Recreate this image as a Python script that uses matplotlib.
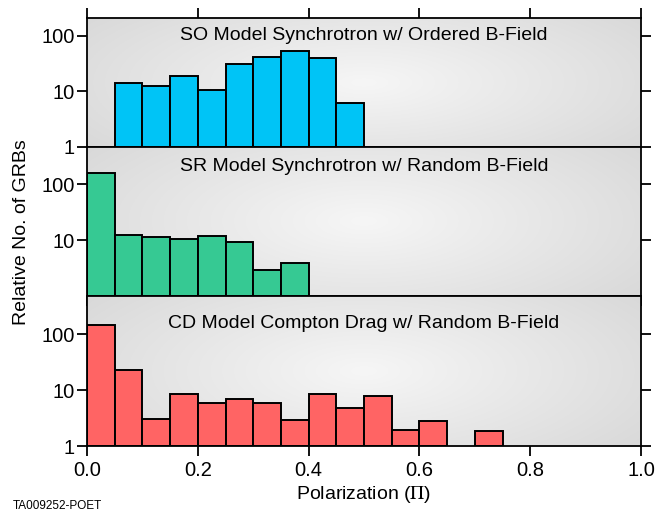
import matplotlib.pyplot as plt
import numpy as np

plt.rcParams['font.family'] = ['Liberation Sans', 'DejaVu Sans']
plt.rcParams['mathtext.fontset'] = 'stix'

# histogram data, bins of width 0.05 starting at 0.0 (0 = empty bin)
bin_width = 0.05
so_counts = [0, 14.4, 12.7, 19, 10.5, 31, 42, 54, 40.6, 6.3]
sr_counts = [161, 12.3, 11.4, 10.6, 11.7, 9.1, 2.9, 3.9]
cd_counts = [145, 23, 3.0, 8.6, 5.9, 6.9, 5.8, 2.9, 8.6, 4.8, 7.9, 1.9, 2.8, 0, 1.86]

titles = ["SO Model Synchrotron w/ Ordered B-Field",
          "SR Model Synchrotron w/ Random B-Field",
          "CD Model Compton Drag w/ Random B-Field"]
colors = ["#00c4f6", "#36c993", "#ff6464"]
x_ticks = [0.0, 0.2, 0.4, 0.6, 0.8, 1.0]
x_tick_labels = ["0.0", "0.2", "0.4", "0.6", "0.8", "1.0"]

W, H = 657, 513
fig = plt.figure(figsize=(W / 100, H / 100), dpi=100)


def rect(top_px, bottom_px):
    left, right = 87, 641
    return [left / W, 1 - bottom_px / H, (right - left) / W, (bottom_px - top_px) / H]


axes = [fig.add_axes(rect(18, 147)), fig.add_axes(rect(147, 296)), fig.add_axes(rect(296, 446))]
ymax = [211, 465, 488]
title_y = [100, 205, 160]
all_counts = [so_counts, sr_counts, cd_counts]

# gray radial background
gx, gy = np.meshgrid(np.linspace(0, 1, 300), np.linspace(0, 1, 150))
r = np.sqrt(((gx - 0.5) / 0.65) ** 2 + ((gy - 0.5) / 0.9) ** 2)
shade = np.clip(0.965 - 0.12 * r, 0.83, 0.97)
bg = np.dstack([shade, shade, shade])

for i, ax in enumerate(axes):
    counts = np.array(all_counts[i], dtype=float)
    lefts = np.arange(len(counts)) * bin_width
    keep = counts > 0
    ax.set_yscale('log')
    ax.set_xlim(0, 1)
    ax.set_ylim(1, ymax[i])
    ax.imshow(bg, extent=[0, 1, 0, 1], transform=ax.transAxes, aspect='auto', zorder=0)
    ax.bar(lefts[keep], counts[keep] - 1, bottom=1, width=bin_width, align='edge',
           color=colors[i], edgecolor='black', linewidth=1.4, zorder=2)
    ax.text(0.5, title_y[i], titles[i], transform=ax.get_yaxis_transform(),
            ha='center', va='center', fontsize=14, zorder=3)
    ax.minorticks_off()
    if i == 1:
        ax.set_yticks([10, 100])
        ax.set_yticklabels(["10", "100"])
    else:
        ax.set_yticks([1, 10, 100])
        ax.set_yticklabels(["1", "10", "100"])
    ax.tick_params(axis='y', which='major', direction='out', length=7, width=1.3,
                   left=True, right=True, labelsize=14.5, pad=2)
    ax.set_xticks(x_ticks)
    for s in ax.spines.values():
        s.set_linewidth(1.3)
    if i == 0:
        ax.tick_params(axis='x', direction='out', length=7, width=1.3,
                       top=True, bottom=False, labeltop=False, labelbottom=False)
    elif i == 1:
        ax.tick_params(axis='x', direction='out', length=7, width=1.3,
                       top=False, bottom=True, labelbottom=False)
    else:
        ax.tick_params(axis='x', direction='out', length=7, width=1.3,
                       top=False, bottom=True, labelsize=14.5, pad=4)
        ax.set_xticklabels(x_tick_labels)

axes[2].set_xlabel(r"Polarization ($\Pi$)", fontsize=14, labelpad=3)
fig.text(22 / W, 1 - 232 / H, "Relative No. of GRBs", rotation=90, ha='center', va='center', fontsize=14)
fig.text(13 / W, 1 - 506 / H, "TA009252-POET", ha='left', va='center', fontsize=8.5)

fig.savefig("out.png", dpi=100)
